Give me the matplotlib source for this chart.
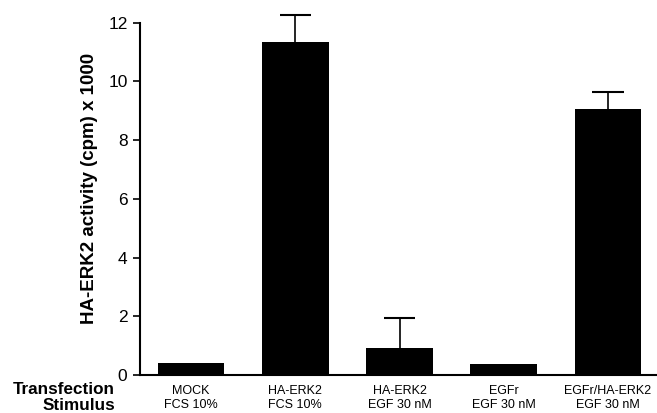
import numpy as np
import matplotlib; matplotlib.use('Agg')
import matplotlib.pyplot as plt

plt.rcParams['font.family'] = ['Liberation Sans', 'DejaVu Sans']

transfection = ["MOCK", "HA-ERK2", "HA-ERK2", "EGFr", "EGFr/HA-ERK2"]
stimulus = ["FCS 10%", "FCS 10%", "EGF 30 nM", "EGF 30 nM", "EGF 30 nM"]
activity = [0.40, 11.35, 0.91, 0.37, 9.06]
err_up = [0.0, 0.92, 1.04, 0.0, 0.57]

W, H = 657, 413
fig = plt.figure(figsize=(W / 100, H / 100), dpi=100)
ax = fig.add_axes([140 / W, (H - 375) / H, (656 - 140) / W, (375 - 22.7) / H])

x = np.arange(len(activity))
ax.bar(x, activity, width=0.64, color="black", zorder=2)
# upper error bars only
for xi, v, e in zip(x, activity, err_up):
    if e > 0:
        ax.vlines(xi, v, v + e, color="black", lw=1.2, zorder=1, clip_on=False)
        ax.hlines(v + e, xi - 0.15, xi + 0.15, color="black", lw=1.5, zorder=1, clip_on=False)

ax.set_xlim(-0.49, 4.46)
ax.set_ylim(0, 12)
ax.set_yticks(range(0, 13, 2))
ax.tick_params(axis="y", direction="out", length=5, width=1.2, labelsize=12.5, pad=4)
ax.set_xticks(x)
ax.set_xticklabels([f"{t}\n{s}" for t, s in zip(transfection, stimulus)],
                   fontsize=9, linespacing=1.25)
ax.tick_params(axis="x", length=0, pad=7)
for s in ["top", "right"]:
    ax.spines[s].set_visible(False)
ax.spines["left"].set_linewidth(1.5)
ax.spines["bottom"].set_linewidth(1.5)

ax.set_ylabel("HA-ERK2 activity (cpm) x 1000", fontsize=13.5, fontweight="bold")
ax.yaxis.set_label_coords((98 - 140) / 516, (375 - 188) / 352.3)

fig.text(115 / W, 1 - 390 / H, "Transfection", ha="right", va="center",
         fontsize=12.3, fontweight="bold")
fig.text(115 / W, 1 - 405 / H, "Stimulus", ha="right", va="center",
         fontsize=12.3, fontweight="bold")

fig.savefig("out.png", dpi=100)
